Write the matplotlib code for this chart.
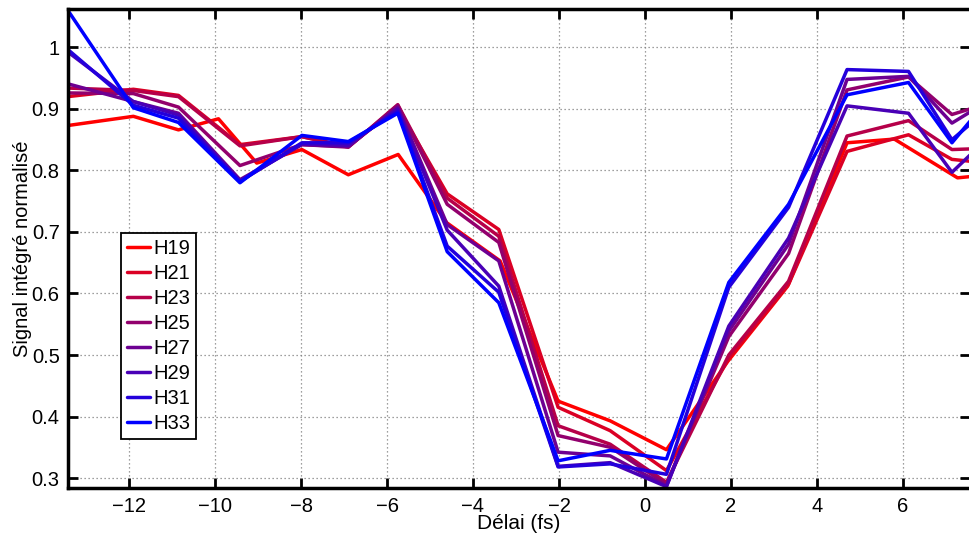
import matplotlib
matplotlib.use("Agg")
import matplotlib.pyplot as plt
from matplotlib.ticker import FuncFormatter

plt.rcParams['font.family'] = ['Liberation Sans', 'DejaVu Sans']

# ---- data ----
labels = ["H19", "H21", "H23", "H25", "H27", "H29", "H31", "H33"]

delay = [-13.43, -11.9, -10.85, -9.42, -7.98, -6.9, -5.75, -4.6, -3.4,
         -2.02, -0.81, 0.5, 1.95, 3.34, 4.70, 6.13, 7.14, 7.56]

delay_h19 = [-13.43, -11.9, -10.85, -9.92, -9.03, -7.98, -6.9, -5.74, -4.61,
             -3.37, -2.02, -0.81, 0.5, 1.93, 3.32, 4.70, 5.80, 7.27, 7.56]

h19 = [0.873, 0.888, 0.866, 0.884, 0.812, 0.834, 0.793, 0.826, 0.715, 0.653,
       0.425, 0.393, 0.346, 0.490, 0.612, 0.845, 0.851, 0.788, 0.790]
h21 = [0.920, 0.932, 0.922, 0.842, 0.855, 0.839, 0.902, 0.762, 0.704,
       0.415, 0.377, 0.312, 0.495, 0.615, 0.831, 0.858, 0.818, 0.815]
h23 = [0.934, 0.930, 0.920, 0.840, 0.855, 0.838, 0.907, 0.755, 0.693,
       0.385, 0.355, 0.293, 0.500, 0.620, 0.856, 0.881, 0.834, 0.835]
h25 = [0.926, 0.925, 0.903, 0.808, 0.842, 0.838, 0.906, 0.745, 0.683,
       0.369, 0.350, 0.290, 0.530, 0.665, 0.931, 0.952, 0.891, 0.900]
h27 = [0.941, 0.912, 0.893, 0.785, 0.842, 0.839, 0.903, 0.712, 0.653,
       0.342, 0.336, 0.287, 0.539, 0.680, 0.948, 0.953, 0.877, 0.895]
h29 = [0.993, 0.912, 0.890, 0.783, 0.843, 0.841, 0.900, 0.703, 0.612,
       0.319, 0.325, 0.286, 0.547, 0.690, 0.905, 0.893, 0.797, 0.825]
h31 = [0.997, 0.906, 0.885, 0.782, 0.845, 0.845, 0.896, 0.677, 0.602,
       0.318, 0.323, 0.306, 0.610, 0.740, 0.964, 0.961, 0.850, 0.875]
h33 = [1.061, 0.902, 0.878, 0.780, 0.857, 0.847, 0.893, 0.668, 0.585,
       0.328, 0.345, 0.331, 0.618, 0.745, 0.923, 0.943, 0.845, 0.880]

series = [h19, h21, h23, h25, h27, h29, h31, h33]
xs = [delay_h19] + [delay] * 7
colors = [(1 - k / 7, 0, k / 7) for k in range(8)]

xticks = [-12, -10, -8, -6, -4, -2, 0, 2, 4, 6]
yticks = [0.3, 0.4, 0.5, 0.6, 0.7, 0.8, 0.9, 1.0]

FS = 14.5

# ---- figure ----
fig = plt.figure(figsize=(9.69, 5.38), dpi=100)
ax = fig.add_axes([68 / 969, 1 - 488.3 / 538, 902 / 969, (488.3 - 9.3) / 538])

for x, y, c, lab in zip(xs, series, colors, labels):
    ax.plot(x, y, color=c, lw=2.5, label=lab, solid_joinstyle='round',
            solid_capstyle='round')

ax.set_xlim(-13.42, 7.56)
ax.set_ylim(0.2833, 1.062)
ax.set_xticks(xticks)
ax.set_yticks(yticks)
ax.yaxis.set_major_formatter(FuncFormatter(lambda v, p: ('%g' % v)))

ax.grid(True, linestyle=(0, (1, 2.2)), color='#808080', linewidth=0.9)
ax.tick_params(direction='in', length=7, width=2.0, labelsize=FS,
               top=True, right=True, pad=6)
for s in ax.spines.values():
    s.set_linewidth(2.5)

ax.set_xlabel("Délai (fs)", fontsize=FS + 0.5, labelpad=-1)
ax.set_ylabel("Signal intégré normalisé", fontsize=FS, labelpad=0)

leg = ax.legend(loc='upper left', bbox_to_anchor=(0.0588, 0.533),
                borderaxespad=0, fontsize=FS, frameon=True, fancybox=False,
                edgecolor='black', framealpha=1, handlelength=1.15,
                handletextpad=0.15, labelspacing=0.3, borderpad=0.3)
leg.get_frame().set_linewidth(1.3)
for l in leg.get_lines():
    l.set_linewidth(2.5)

fig.savefig("out.png", dpi=100)
